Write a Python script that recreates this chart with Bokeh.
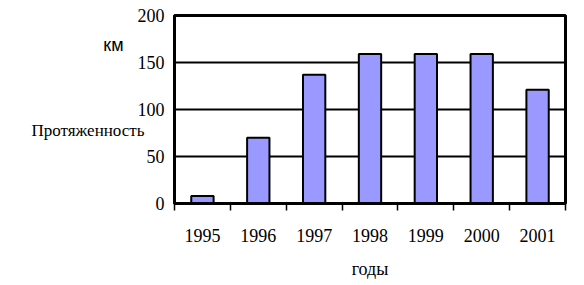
from bokeh.plotting import figure
from bokeh.models import Range1d, FixedTicker, LinearAxis
from bokeh.embed import file_html
from bokeh.resources import INLINE

years = ["1995", "1996", "1997", "1998", "1999", "2000", "2001"]
lengths = [8, 70, 137, 159, 159, 159, 121]
y_ticks = [0, 50, 100, 150, 200]
y_title = "Протяженность"
y_unit = "км"
x_title = "годы"

n = len(years)
centers = [i + 0.5 for i in range(n)]
bounds = list(range(n + 1))

p = figure(width=584, height=285, output_backend="svg", toolbar_location=None,
           x_range=Range1d(0, n), y_range=Range1d(0, 200),
           min_border_left=174, min_border_right=19, min_border_top=15,
           min_border_bottom=82)

p.vbar(x=centers, top=lengths, width=0.4, bottom=0,
       fill_color="#9999FF", line_color="black", line_width=2)

SERIF = "Liberation Serif"

# x axis
xa = p.xaxis[0]
xa.ticker = FixedTicker(ticks=centers, minor_ticks=bounds)
xa.major_label_overrides = {c: y for c, y in zip(centers, years)}
xa.major_tick_line_color = None
xa.major_tick_out = 0
xa.major_tick_in = 0
xa.minor_tick_out = 7
xa.minor_tick_in = 0
xa.minor_tick_line_color = "black"
xa.minor_tick_line_width = 1.5
xa.axis_line_color = "black"
xa.axis_line_width = 3
xa.major_label_text_font = SERIF
xa.major_label_text_font_size = "18px"
xa.major_label_text_color = "black"
xa.major_label_standoff = 18
xa.axis_label = x_title
xa.axis_label_text_font = SERIF
xa.axis_label_text_font_size = "18px"
xa.axis_label_text_font_style = "normal"
xa.axis_label_text_color = "black"
xa.axis_label_standoff = 14

# y axis
ya = p.yaxis[0]
ya.ticker = FixedTicker(ticks=y_ticks)
ya.minor_tick_line_color = None
ya.major_tick_out = 0
ya.major_tick_in = 0
ya.axis_line_color = "black"
ya.axis_line_width = 3
ya.major_label_text_font = SERIF
ya.major_label_text_font_size = "18px"
ya.major_label_text_color = "black"
ya.major_label_standoff = 10


def text_axis(pos, txt, font, size, standoff):
    ax = LinearAxis(ticker=FixedTicker(ticks=[pos]),
                    major_label_overrides={pos: txt},
                    axis_line_color=None, major_tick_line_color=None,
                    minor_tick_line_color=None, major_tick_out=0, major_tick_in=0,
                    minor_tick_out=0, minor_tick_in=0,
                    major_label_text_font=font, major_label_text_font_size=size,
                    major_label_text_color="black", major_label_standoff=standoff)
    p.add_layout(ax, "left")
    return ax


text_axis(78, y_title, SERIF, "17px", -10)
text_axis(169, y_unit, "Liberation Sans", "18px", -95)

p.xgrid.grid_line_color = None
p.ygrid.ticker = FixedTicker(ticks=y_ticks)
p.ygrid.grid_line_color = "black"
p.ygrid.grid_line_width = 2
p.outline_line_color = "black"
p.outline_line_width = 3
p.background_fill_color = "white"
p.border_fill_color = "white"

open("out.html", "w").write(file_html(p, INLINE))
